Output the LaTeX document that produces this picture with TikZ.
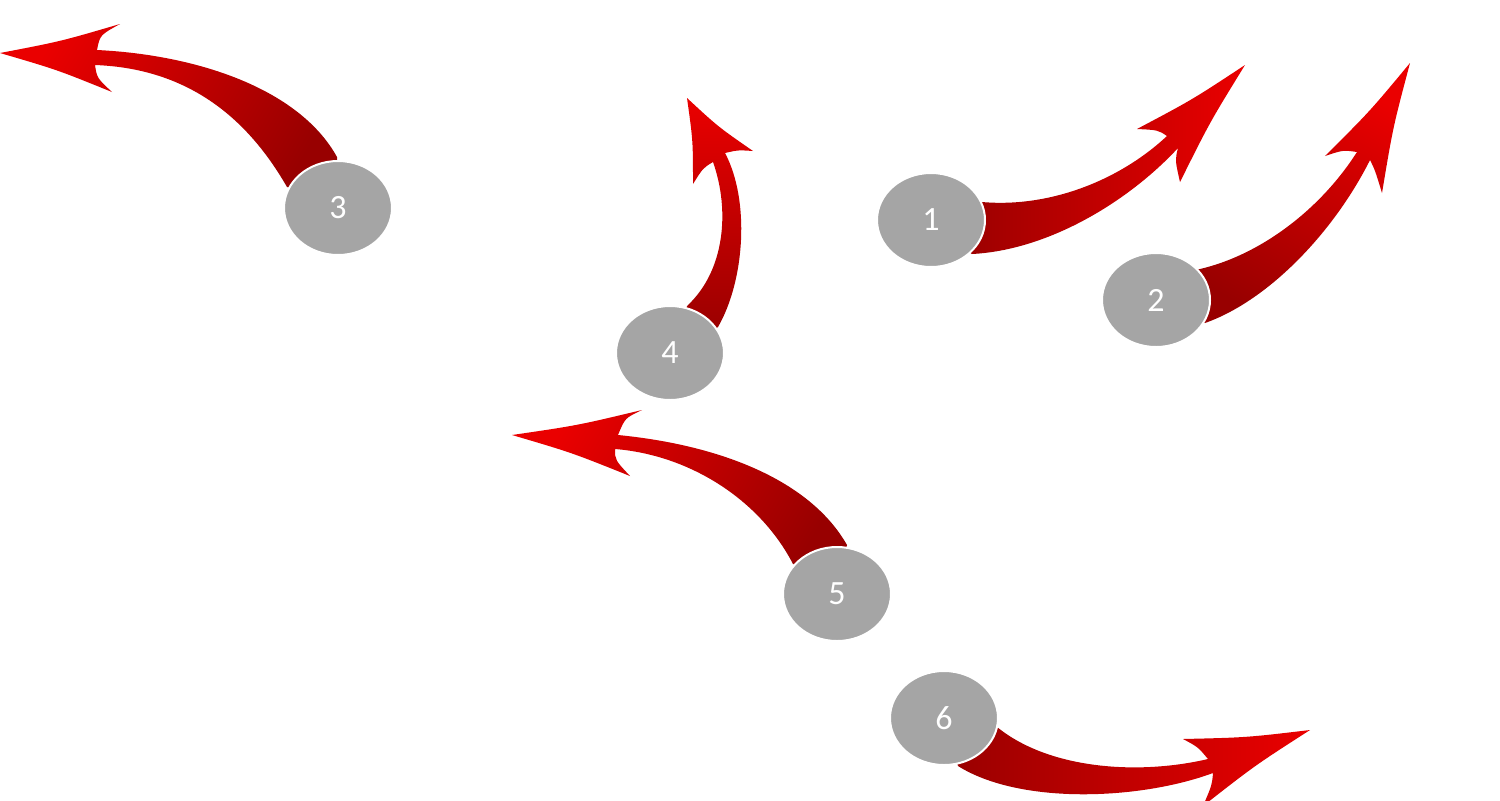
\documentclass[tikz,border=0pt]{standalone}
\usepackage{fontspec}
\setmainfont{Carlito}
\usetikzlibrary{shapes.geometric}
\definecolor{arrowdark}{RGB}{152,0,0}
\definecolor{arrowbright}{RGB}{234,0,0}
\definecolor{discgray}{RGB}{165,165,165}
\tikzset{
  numdisc/.style={ellipse, fill=discgray, draw=white, line width=1pt,
    minimum width=54pt, minimum height=47pt, inner sep=0pt,
    text=white, font=\fontsize{17}{20}\selectfont},
  fadeLR/.style={left color=arrowdark, right color=arrowbright},
  fadeAng/.style={top color=arrowbright, bottom color=arrowdark, shading angle=#1}
}
\begin{document}
\begin{tikzpicture}[x=0.5pt, y=-0.5pt]
\clip (0,0) rectangle (1500,800);
\fill[white] (0,0) rectangle (1500,800);

% arrow 1
\shade[fadeLR] (960,205) -- (982,202) .. controls (1050,208) and (1120,180) .. (1167,136)
  .. controls (1158,130) .. (1137,129) .. controls (1192.5,99.6) .. (1245,65)
  .. controls (1209.9,122) .. (1180,182)
  .. controls (1175,160) .. (1178,148)
  .. controls (1130,200) and (1050,250) .. (972,254) -- (950,240) -- cycle;
% arrow 2
\shade[fadeAng=-30] (1180,275) -- (1200,269) .. controls (1260,255) and (1320,210) .. (1357,152)
  .. controls (1343,150) .. (1325,156) .. controls (1369.7,111.5) .. (1410,63)
  .. controls (1393,127) .. (1382,193)
  .. controls (1375,170) .. (1370,160)
  .. controls (1335,230) and (1270,300) .. (1205,323) -- (1185,320) -- cycle;
% arrow 3
\shade[fadeAng=60] (338,200) -- (337,157) .. controls (300,90) and (200,55) .. (97,50)
  .. controls (100,35) .. (120,24) .. controls (60.7,41.4) .. (0,53)
  .. controls (57,69.7) .. (112,92)
  .. controls (97,78) .. (95,65)
  .. controls (175,68) and (240,105) .. (287,187) -- cycle;
% arrow 4
\shade[fadeAng=0] (700,340) -- (718,327) .. controls (745,280) and (750,200) .. (725,153)
  .. controls (738,150) .. (753,151) .. controls (718.1,126.8) .. (687,98)
  .. controls (693,140.8) .. (693,184)
  .. controls (703,168) .. (713,162)
  .. controls (730,210) and (725,270) .. (688,305) -- (670,330) -- cycle;
% arrow 5
\shade[fadeAng=60] (837,580) -- (847,545) .. controls (810,480) and (720,445) .. (618,435)
  .. controls (625,418) .. (642,410) .. controls (577.6,425.4) .. (512,435)
  .. controls (572,452.7) .. (630,476)
  .. controls (615,460) .. (615,449)
  .. controls (690,455) and (760,500) .. (793,564) -- cycle;
% arrow 6
\shade[fadeLR] (944,720) -- (997,727) .. controls (1050,770) and (1140,775) .. (1208,759)
  .. controls (1198,747) .. (1183,739) .. controls (1246.7,737.5) .. (1310,730)
  .. controls (1254.8,765.5) .. (1203,806)
  .. controls (1212,785) .. (1213,773)
  .. controls (1140,800) and (1020,805) .. (958,766) -- cycle;

\node[numdisc] (n1) at (931,220) {1};
\node[numdisc] (n2) at (1156,300) {2};
\node[numdisc] (n3) at (338,208) {3};
\node[numdisc] (n4) at (670,353) {4};
\node[numdisc] (n5) at (837,594) {5};
\node[numdisc] (n6) at (944,718) {6};
\end{tikzpicture}
\end{document}
